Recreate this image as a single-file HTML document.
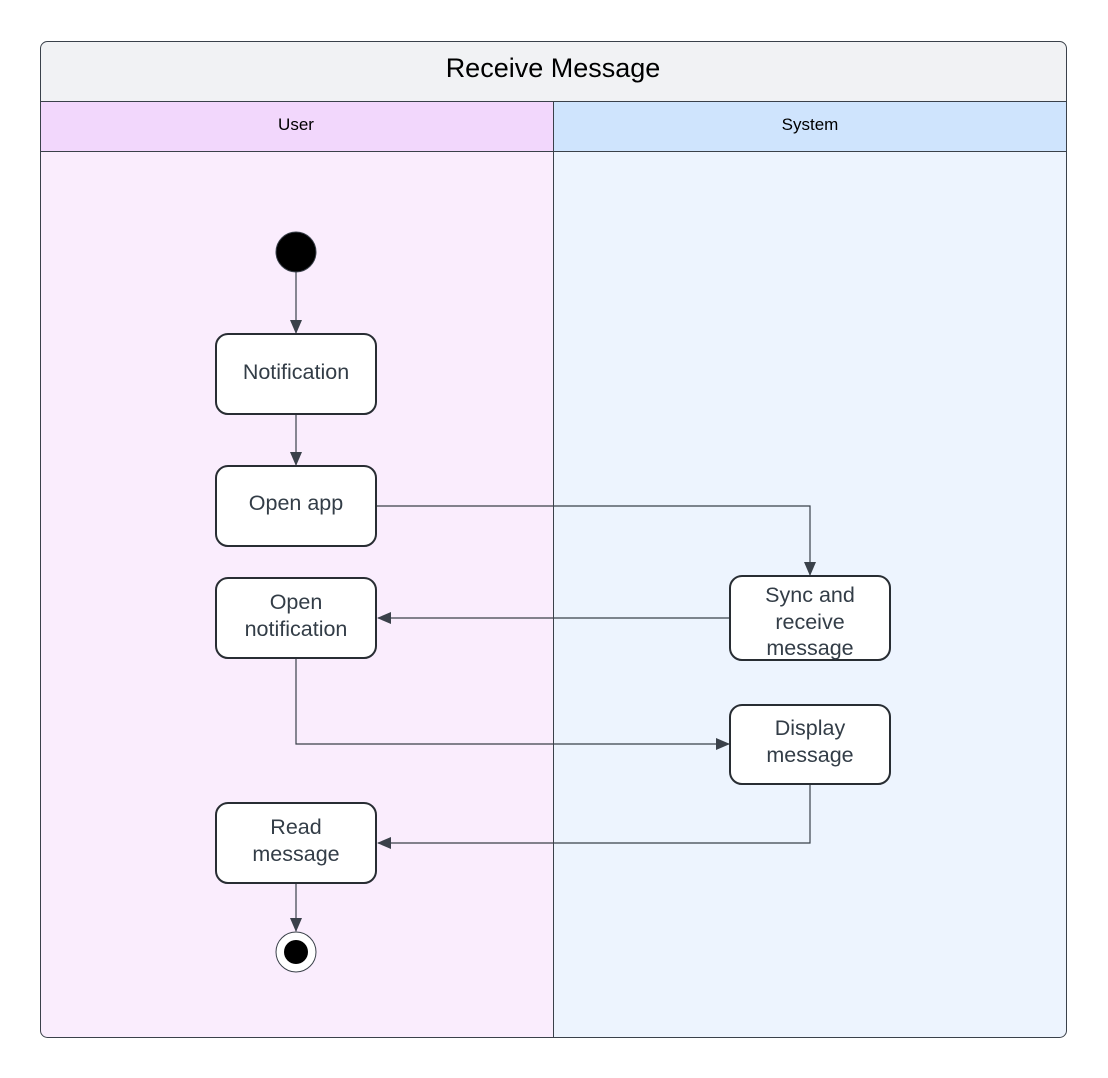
<!DOCTYPE html>
<html><head><style>body{margin:0;background:#fff}svg{display:block}</style></head><body>
<svg width="1108" height="1078" viewBox="0 0 1108 1078" xmlns="http://www.w3.org/2000/svg" font-family="Liberation Sans, sans-serif">
<defs>
<marker id="a" markerWidth="14" markerHeight="12" refX="13" refY="6" orient="auto" markerUnits="userSpaceOnUse">
<path d="M0,0 L14,6 L0,12 Z" fill="#3a414a"/>
</marker>
<clipPath id="c"><rect x="40" y="41" width="1026" height="996" rx="7"/></clipPath>
</defs>
<g clip-path="url(#c)">
<rect x="40" y="41" width="1026" height="60" fill="#f1f2f4"/>
<rect x="40" y="101" width="513" height="50" fill="#f2d7fc"/>
<rect x="553" y="101" width="513" height="50" fill="#cfe4fd"/>
<rect x="40" y="151" width="513" height="886" fill="#faedfd"/>
<rect x="553" y="151" width="513" height="886" fill="#edf4fe"/>
</g>
<g stroke="#3a414a" stroke-width="1" fill="none">
<rect x="40.5" y="41.5" width="1026" height="996" rx="7"/>
<line x1="40" y1="101.5" x2="1066" y2="101.5"/>
<line x1="40" y1="151.5" x2="1066" y2="151.5"/>
<line x1="553.5" y1="101" x2="553.5" y2="1037"/>
</g>
<g fill="#000" font-size="27" text-anchor="middle"><text x="553" y="77">Receive Message</text></g>
<g fill="#000" font-size="17" text-anchor="middle"><text x="296" y="130">User</text><text x="810" y="130">System</text></g>
<g stroke="#3a414a" stroke-width="1.2" fill="none">
<line x1="296" y1="272" x2="296" y2="333" marker-end="url(#a)"/>
<line x1="296" y1="414" x2="296" y2="465" marker-end="url(#a)"/>
<polyline points="377,506 810,506 810,575" marker-end="url(#a)"/>
<line x1="730" y1="618" x2="378" y2="618" marker-end="url(#a)"/>
<polyline points="296,658 296,744 729,744" marker-end="url(#a)"/>
<polyline points="810,784 810,843 378,843" marker-end="url(#a)"/>
<line x1="296" y1="883" x2="296" y2="931" marker-end="url(#a)"/>
</g>
<circle cx="296" cy="252" r="20" fill="#000" stroke="#3a414a"/>
<circle cx="296" cy="952" r="20" fill="#fff" stroke="#3a414a"/>
<circle cx="296" cy="952" r="12" fill="#000"/>
<g fill="#fff" stroke="#282d33" stroke-width="2">
<rect x="216" y="334" width="160" height="80" rx="12"/>
<rect x="216" y="466" width="160" height="80" rx="12"/>
<rect x="216" y="578" width="160" height="80" rx="12"/>
<rect x="216" y="803" width="160" height="80" rx="12"/>
<rect x="730" y="576" width="160" height="84" rx="12"/>
<rect x="730" y="705" width="160" height="79" rx="12"/>
</g>
<g fill="#333d47" font-size="21.5" text-anchor="middle">
<text x="296" y="379">Notification</text>
<text x="296" y="510">Open app</text>
<text x="296" y="609">Open</text><text x="296" y="636">notification</text>
<text x="296" y="834">Read</text><text x="296" y="861">message</text>
<text x="810" y="602">Sync and</text><text x="810" y="629">receive</text><text x="810" y="655">message</text>
<text x="810" y="735">Display</text><text x="810" y="762">message</text>
</g>
</svg>
</body></html>
